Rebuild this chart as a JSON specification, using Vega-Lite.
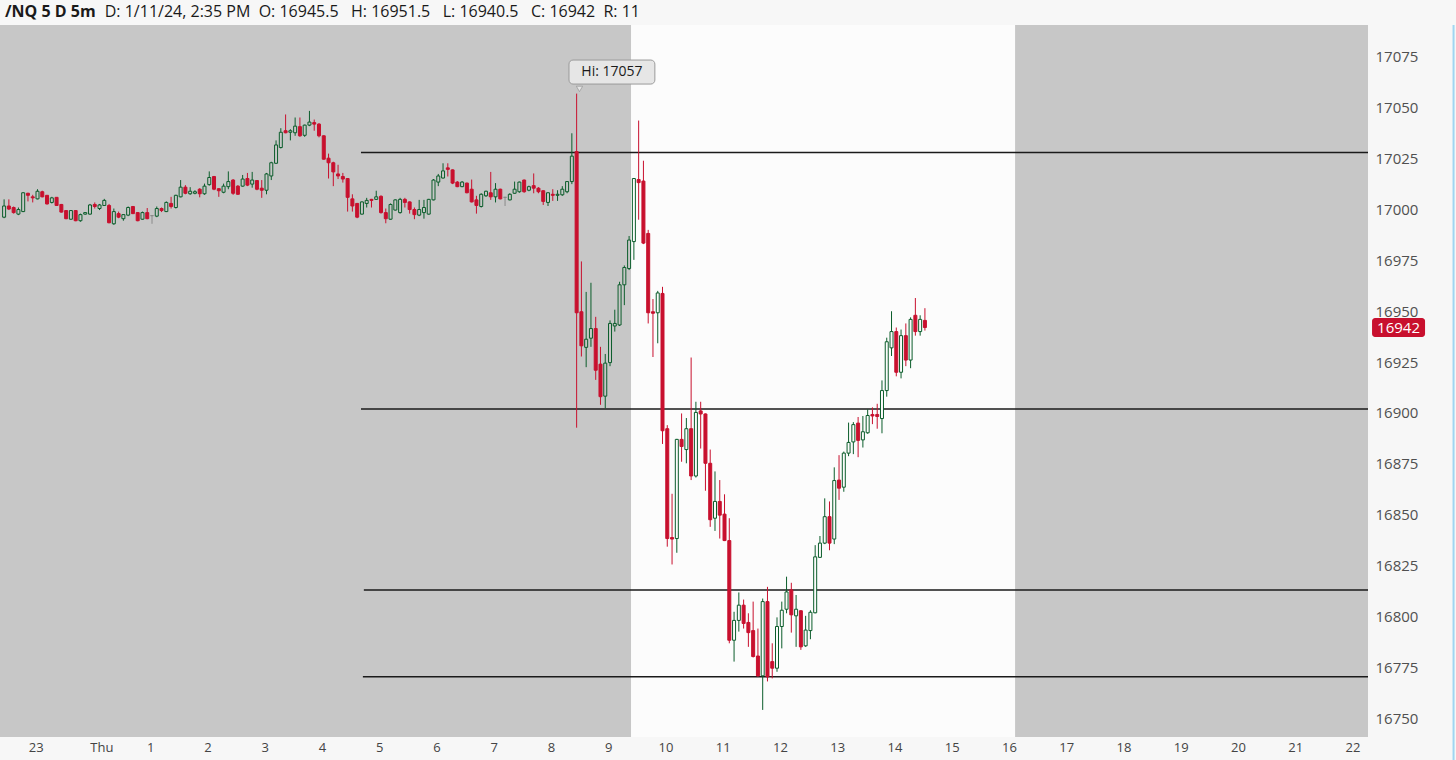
{
  "$schema": "https://vega.github.io/schema/vega-lite/v6.json",
  "autosize": "none",
  "width": 1368,
  "height": 712,
  "padding": {"left": 0, "top": 25, "right": 88, "bottom": 23},
  "background": "#f7f7f7",
  "title": {
    "text": "/NQ 5 D 5m",
    "subtitle": "\u200b\u00a0\u00a0\u00a0\u00a0\u00a0\u00a0\u00a0\u00a0\u00a0\u00a0\u00a0\u00a0\u00a0\u00a0\u00a0\u00a0\u00a0\u00a0\u00a0\u00a0\u00a0\u00a0\u00a0\u00a0D: 1/11/24, 2:35 PM\u00a0\u00a0O: 16945.5\u00a0\u00a0\u00a0H: 16951.5\u00a0\u00a0\u00a0L: 16940.5\u00a0\u00a0\u00a0C: 16942\u00a0\u00a0R: 11",
    "anchor": "start",
    "frame": "group",
    "font": "Open Sans",
    "fontSize": 16,
    "fontWeight": "bold",
    "color": "#1a1a1a",
    "subtitleFont": "Open Sans",
    "subtitleFontSize": 16,
    "subtitleColor": "#1a1a1a",
    "subtitlePadding": -16,
    "offset": 4,
    "dx": 5
  },
  "data": {
    "format": {"parse": {"t": "date"}},
    "values": [
      {"t":"2024-01-10T22:30","o":16996.25,"h":17005,"l":16995.75,"c":17001.75},
      {"t":"2024-01-10T22:35","o":17001.75,"h":17005,"l":16999.75,"c":17000.25},
      {"t":"2024-01-10T22:40","o":17001,"h":17001.5,"l":16998,"c":16998.5},
      {"t":"2024-01-10T22:45","o":16997.75,"h":17001,"l":16997.25,"c":17000},
      {"t":"2024-01-10T22:50","o":16999,"h":17008.5,"l":16998.75,"c":17008.25},
      {"t":"2024-01-10T22:55","o":17008,"h":17008.25,"l":17004,"c":17007},
      {"t":"2024-01-10T23:00","o":17006.25,"h":17007.25,"l":17003.5,"c":17005.75},
      {"t":"2024-01-10T23:05","o":17005.25,"h":17010,"l":17005,"c":17009},
      {"t":"2024-01-10T23:10","o":17008.75,"h":17009.25,"l":17006,"c":17006.25},
      {"t":"2024-01-10T23:15","o":17007,"h":17007,"l":17002.5,"c":17002.75},
      {"t":"2024-01-10T23:20","o":17003.5,"h":17006.25,"l":17003,"c":17005.75},
      {"t":"2024-01-10T23:25","o":17006,"h":17006,"l":17001.75,"c":17002},
      {"t":"2024-01-10T23:30","o":17002.5,"h":17002.75,"l":16998.5,"c":16998.75},
      {"t":"2024-01-10T23:35","o":16999.5,"h":16999.75,"l":16995.25,"c":16995.5},
      {"t":"2024-01-10T23:40","o":16995.25,"h":16999.75,"l":16995,"c":16999.5},
      {"t":"2024-01-10T23:45","o":16999.5,"h":16999.75,"l":16994.25,"c":16994.5},
      {"t":"2024-01-10T23:50","o":16994.5,"h":16998,"l":16994,"c":16997.5},
      {"t":"2024-01-10T23:55","o":16997.75,"h":16998.75,"l":16997.5,"c":16998.5},
      {"t":"2024-01-11T00:00","o":16997.75,"h":17002.75,"l":16997.5,"c":17002.25},
      {"t":"2024-01-11T00:05","o":17002.5,"h":17003.5,"l":17000.5,"c":17001.5},
      {"t":"2024-01-11T00:10","o":17000.5,"h":17002.75,"l":16999.75,"c":17002.25},
      {"t":"2024-01-11T00:15","o":17002,"h":17005.25,"l":17001.75,"c":17004.5},
      {"t":"2024-01-11T00:20","o":17002,"h":17002.75,"l":16993.25,"c":16993.5},
      {"t":"2024-01-11T00:25","o":16993,"h":17000.5,"l":16992.5,"c":16999},
      {"t":"2024-01-11T00:30","o":16998,"h":16999,"l":16995.75,"c":16996.25},
      {"t":"2024-01-11T00:35","o":16995.5,"h":16997.75,"l":16994.5,"c":16997.5},
      {"t":"2024-01-11T00:40","o":16997.25,"h":17001.5,"l":16996.75,"c":17001},
      {"t":"2024-01-11T00:45","o":17001.5,"h":17001.75,"l":16997.75,"c":16998},
      {"t":"2024-01-11T00:50","o":16998.5,"h":16998.75,"l":16994.25,"c":16994.5},
      {"t":"2024-01-11T00:55","o":16995.25,"h":16999,"l":16995,"c":16998.5},
      {"t":"2024-01-11T01:00","o":16998.5,"h":17000.75,"l":16995.25,"c":16995.5},
      {"t":"2024-01-11T01:05","o":16997,"h":16997.25,"l":16993,"c":16997},
      {"t":"2024-01-11T01:10","o":16996.75,"h":17001.5,"l":16996.25,"c":17000.5},
      {"t":"2024-01-11T01:15","o":17000.5,"h":17001,"l":16998.75,"c":16999.5},
      {"t":"2024-01-11T01:20","o":16999,"h":17004,"l":16998.75,"c":17003.5},
      {"t":"2024-01-11T01:25","o":17003,"h":17006.25,"l":17000.5,"c":17001.5},
      {"t":"2024-01-11T01:30","o":17001,"h":17007.25,"l":17000.5,"c":17007},
      {"t":"2024-01-11T01:35","o":17006.25,"h":17014.5,"l":17006,"c":17011},
      {"t":"2024-01-11T01:40","o":17011,"h":17012,"l":17007.5,"c":17008},
      {"t":"2024-01-11T01:45","o":17007.75,"h":17011,"l":17007.25,"c":17009},
      {"t":"2024-01-11T01:50","o":17008,"h":17009.5,"l":17007.5,"c":17008.75},
      {"t":"2024-01-11T01:55","o":17010,"h":17010.5,"l":17006,"c":17007.75},
      {"t":"2024-01-11T02:00","o":17007.75,"h":17012.75,"l":17007.25,"c":17011.5},
      {"t":"2024-01-11T02:05","o":17012.25,"h":17018.75,"l":17011.75,"c":17015.75},
      {"t":"2024-01-11T02:10","o":17016.25,"h":17016.5,"l":17009.5,"c":17010},
      {"t":"2024-01-11T02:15","o":17010.25,"h":17010.5,"l":17006.25,"c":17009.25},
      {"t":"2024-01-11T02:20","o":17008.5,"h":17012.75,"l":17008,"c":17011.5},
      {"t":"2024-01-11T02:25","o":17011.25,"h":17018.75,"l":17010,"c":17013.75},
      {"t":"2024-01-11T02:30","o":17014.5,"h":17015,"l":17007.25,"c":17008},
      {"t":"2024-01-11T02:35","o":17011.5,"h":17012,"l":17007.25,"c":17007.5},
      {"t":"2024-01-11T02:40","o":17011.5,"h":17017,"l":17011.25,"c":17015},
      {"t":"2024-01-11T02:45","o":17015.25,"h":17018,"l":17011.5,"c":17012},
      {"t":"2024-01-11T02:50","o":17012.5,"h":17018.5,"l":17010.75,"c":17014.5},
      {"t":"2024-01-11T02:55","o":17014.25,"h":17014.5,"l":17009.5,"c":17010},
      {"t":"2024-01-11T03:00","o":17010.5,"h":17014.5,"l":17005.75,"c":17009.5},
      {"t":"2024-01-11T03:05","o":17009.5,"h":17018,"l":17007.5,"c":17017.5},
      {"t":"2024-01-11T03:10","o":17016.5,"h":17023.5,"l":17014.5,"c":17023},
      {"t":"2024-01-11T03:15","o":17022.75,"h":17034,"l":17022.5,"c":17031.75},
      {"t":"2024-01-11T03:20","o":17030.5,"h":17040,"l":17030,"c":17038},
      {"t":"2024-01-11T03:25","o":17038.75,"h":17046.75,"l":17037.5,"c":17037.75},
      {"t":"2024-01-11T03:30","o":17038,"h":17039.5,"l":17034,"c":17038.75},
      {"t":"2024-01-11T03:35","o":17037.75,"h":17045.25,"l":17036.25,"c":17041},
      {"t":"2024-01-11T03:40","o":17040.75,"h":17045.25,"l":17035.75,"c":17036.25},
      {"t":"2024-01-11T03:45","o":17036.5,"h":17041.75,"l":17035.75,"c":17041.5},
      {"t":"2024-01-11T03:50","o":17041.5,"h":17048.5,"l":17041,"c":17043},
      {"t":"2024-01-11T03:55","o":17042.75,"h":17044.25,"l":17038.75,"c":17042},
      {"t":"2024-01-11T04:00","o":17042,"h":17042.5,"l":17035.5,"c":17036.25},
      {"t":"2024-01-11T04:05","o":17036.25,"h":17036.5,"l":17024.5,"c":17024.75},
      {"t":"2024-01-11T04:10","o":17025.25,"h":17027.5,"l":17015.25,"c":17023},
      {"t":"2024-01-11T04:15","o":17023,"h":17023.5,"l":17011.5,"c":17018.5},
      {"t":"2024-01-11T04:20","o":17017.5,"h":17022,"l":17015,"c":17016.5},
      {"t":"2024-01-11T04:25","o":17016.25,"h":17018,"l":17013.25,"c":17015},
      {"t":"2024-01-11T04:30","o":17015.25,"h":17015.5,"l":16999,"c":17006},
      {"t":"2024-01-11T04:35","o":17005.25,"h":17007.5,"l":16999,"c":17001.75},
      {"t":"2024-01-11T04:40","o":17003,"h":17003.25,"l":16995.75,"c":16996.25},
      {"t":"2024-01-11T04:45","o":16997.75,"h":17004,"l":16997.5,"c":17003.75},
      {"t":"2024-01-11T04:50","o":17003,"h":17005.75,"l":17001,"c":17004.5},
      {"t":"2024-01-11T04:55","o":17005,"h":17005.25,"l":17001,"c":17004.5},
      {"t":"2024-01-11T05:00","o":17005,"h":17009.25,"l":17004.75,"c":17006.25},
      {"t":"2024-01-11T05:05","o":17006.5,"h":17007,"l":16998,"c":16998.5},
      {"t":"2024-01-11T05:10","o":16998.5,"h":17000.5,"l":16993.25,"c":16995.5},
      {"t":"2024-01-11T05:15","o":16995.25,"h":17003,"l":16995,"c":17002.5},
      {"t":"2024-01-11T05:20","o":16999.75,"h":17005,"l":16999.5,"c":17004.75},
      {"t":"2024-01-11T05:25","o":16998.5,"h":17005.75,"l":16998,"c":17005},
      {"t":"2024-01-11T05:30","o":17005,"h":17005.75,"l":17001,"c":17003.5},
      {"t":"2024-01-11T05:35","o":17003.75,"h":17004,"l":16998,"c":17000},
      {"t":"2024-01-11T05:40","o":17000,"h":17001,"l":16995.25,"c":16997.5},
      {"t":"2024-01-11T05:45","o":16997.25,"h":17004.75,"l":16996.75,"c":17000},
      {"t":"2024-01-11T05:50","o":16998.5,"h":17004.75,"l":16995.5,"c":17001},
      {"t":"2024-01-11T05:55","o":16997.75,"h":17005.25,"l":16997.5,"c":17005},
      {"t":"2024-01-11T06:00","o":17004.75,"h":17015,"l":17004.5,"c":17014.5},
      {"t":"2024-01-11T06:05","o":17013.5,"h":17017.5,"l":17011.5,"c":17016.5},
      {"t":"2024-01-11T06:10","o":17015.5,"h":17022.75,"l":17015.25,"c":17019},
      {"t":"2024-01-11T06:15","o":17020.5,"h":17022.75,"l":17016.25,"c":17019.75},
      {"t":"2024-01-11T06:20","o":17019.5,"h":17019.75,"l":17012.5,"c":17013},
      {"t":"2024-01-11T06:25","o":17013.5,"h":17014,"l":17011,"c":17011.25},
      {"t":"2024-01-11T06:30","o":17011.25,"h":17014,"l":17011,"c":17013.5},
      {"t":"2024-01-11T06:35","o":17013,"h":17013.25,"l":17008,"c":17008.25},
      {"t":"2024-01-11T06:40","o":17010,"h":17014.75,"l":17003.5,"c":17003.75},
      {"t":"2024-01-11T06:45","o":17004.75,"h":17006.75,"l":16998,"c":17002},
      {"t":"2024-01-11T06:50","o":17001.5,"h":17008,"l":17001,"c":17007.5},
      {"t":"2024-01-11T06:55","o":17006.75,"h":17009.25,"l":17006.25,"c":17009},
      {"t":"2024-01-11T07:00","o":17008.25,"h":17018.5,"l":17004.75,"c":17006.25},
      {"t":"2024-01-11T07:05","o":17006.25,"h":17013,"l":17003.5,"c":17010},
      {"t":"2024-01-11T07:10","o":17010,"h":17010.25,"l":17005,"c":17005.25},
      {"t":"2024-01-11T07:15","o":17006,"h":17006.25,"l":17001.75,"c":17006},
      {"t":"2024-01-11T07:20","o":17004.75,"h":17008,"l":17004.5,"c":17007.5},
      {"t":"2024-01-11T07:25","o":17008,"h":17013.75,"l":17007.75,"c":17010},
      {"t":"2024-01-11T07:30","o":17008.75,"h":17013.75,"l":17008.25,"c":17013.5},
      {"t":"2024-01-11T07:35","o":17014.5,"h":17014.75,"l":17008.25,"c":17008.75},
      {"t":"2024-01-11T07:40","o":17009.5,"h":17011.75,"l":17009,"c":17011.25},
      {"t":"2024-01-11T07:45","o":17011.75,"h":17017.75,"l":17008,"c":17010.5},
      {"t":"2024-01-11T07:50","o":17010.5,"h":17011,"l":17008,"c":17008.75},
      {"t":"2024-01-11T07:55","o":17009.25,"h":17009.5,"l":17002.25,"c":17004},
      {"t":"2024-01-11T08:00","o":17003.5,"h":17008.5,"l":17001.75,"c":17008.25},
      {"t":"2024-01-11T08:05","o":17007.5,"h":17010,"l":17004.25,"c":17007},
      {"t":"2024-01-11T08:10","o":17007,"h":17009.5,"l":17004.25,"c":17007.5},
      {"t":"2024-01-11T08:15","o":17007.25,"h":17011.5,"l":17006.75,"c":17010},
      {"t":"2024-01-11T08:20","o":17008.75,"h":17014,"l":17008,"c":17013.75},
      {"t":"2024-01-11T08:25","o":17013.75,"h":17037.5,"l":17012.5,"c":17026.25},
      {"t":"2024-01-11T08:30","o":17028.5,"h":17057,"l":16892.75,"c":16949.25},
      {"t":"2024-01-11T08:35","o":16949.75,"h":16974.5,"l":16927.75,"c":16933},
      {"t":"2024-01-11T08:40","o":16932.25,"h":16959.5,"l":16922.5,"c":16936.25},
      {"t":"2024-01-11T08:45","o":16936.75,"h":16964,"l":16932.5,"c":16941.5},
      {"t":"2024-01-11T08:50","o":16941.5,"h":16947.25,"l":16916.25,"c":16921},
      {"t":"2024-01-11T08:55","o":16924,"h":16932.5,"l":16904,"c":16908},
      {"t":"2024-01-11T09:00","o":16908.25,"h":16929,"l":16902.25,"c":16924.5},
      {"t":"2024-01-11T09:05","o":16924.75,"h":16945.5,"l":16923,"c":16944},
      {"t":"2024-01-11T09:10","o":16942.75,"h":16950.75,"l":16940,"c":16944},
      {"t":"2024-01-11T09:15","o":16943.25,"h":16964.5,"l":16942.75,"c":16963},
      {"t":"2024-01-11T09:20","o":16963,"h":16972.5,"l":16953,"c":16971.5},
      {"t":"2024-01-11T09:25","o":16971,"h":16987,"l":16970.25,"c":16985},
      {"t":"2024-01-11T09:30","o":16984.25,"h":17015.5,"l":16975.25,"c":17015.25},
      {"t":"2024-01-11T09:35","o":17014.75,"h":17043.75,"l":16995,"c":17013.25},
      {"t":"2024-01-11T09:40","o":17014,"h":17024,"l":16983,"c":16983.5},
      {"t":"2024-01-11T09:45","o":16988.25,"h":16990,"l":16944,"c":16949.25},
      {"t":"2024-01-11T09:50","o":16949.75,"h":16956,"l":16927.5,"c":16949},
      {"t":"2024-01-11T09:55","o":16949.25,"h":16960,"l":16934.25,"c":16959},
      {"t":"2024-01-11T10:00","o":16958.75,"h":16962,"l":16884.75,"c":16891.25},
      {"t":"2024-01-11T10:05","o":16892.25,"h":16894,"l":16834.25,"c":16838.25},
      {"t":"2024-01-11T10:10","o":16838.75,"h":16860.25,"l":16825.5,"c":16838},
      {"t":"2024-01-11T10:15","o":16838.25,"h":16887.25,"l":16831.25,"c":16887},
      {"t":"2024-01-11T10:20","o":16887,"h":16899.75,"l":16876,"c":16883.5},
      {"t":"2024-01-11T10:25","o":16882,"h":16897.5,"l":16875.25,"c":16892.25},
      {"t":"2024-01-11T10:30","o":16892.25,"h":16927.25,"l":16867,"c":16869},
      {"t":"2024-01-11T10:35","o":16869,"h":16905.5,"l":16868.25,"c":16900.25},
      {"t":"2024-01-11T10:40","o":16901,"h":16905.5,"l":16882.5,"c":16899.5},
      {"t":"2024-01-11T10:45","o":16899.5,"h":16899.75,"l":16861.75,"c":16875.25},
      {"t":"2024-01-11T10:50","o":16875.25,"h":16882,"l":16844,"c":16847.5},
      {"t":"2024-01-11T10:55","o":16848.25,"h":16871.25,"l":16842,"c":16856.5},
      {"t":"2024-01-11T11:00","o":16856.5,"h":16867,"l":16838.25,"c":16849.75},
      {"t":"2024-01-11T11:05","o":16850.25,"h":16860,"l":16837,"c":16837.25},
      {"t":"2024-01-11T11:10","o":16837.25,"h":16848.25,"l":16786.75,"c":16788.25},
      {"t":"2024-01-11T11:15","o":16788.25,"h":16802.25,"l":16777.75,"c":16798},
      {"t":"2024-01-11T11:20","o":16798,"h":16811.75,"l":16792.5,"c":16805.5},
      {"t":"2024-01-11T11:25","o":16805.5,"h":16808.25,"l":16794,"c":16796.5},
      {"t":"2024-01-11T11:30","o":16797,"h":16801.5,"l":16785,"c":16792},
      {"t":"2024-01-11T11:35","o":16793,"h":16807.25,"l":16779.75,"c":16780.25},
      {"t":"2024-01-11T11:40","o":16780.5,"h":16794,"l":16770.25,"c":16770.75},
      {"t":"2024-01-11T11:45","o":16770.75,"h":16808.75,"l":16754,"c":16807.25},
      {"t":"2024-01-11T11:50","o":16807.25,"h":16814.5,"l":16768,"c":16770.25},
      {"t":"2024-01-11T11:55","o":16777.75,"h":16786.75,"l":16769.5,"c":16774.5},
      {"t":"2024-01-11T12:00","o":16774.5,"h":16799.5,"l":16772.75,"c":16795},
      {"t":"2024-01-11T12:05","o":16795,"h":16807.25,"l":16784.25,"c":16803},
      {"t":"2024-01-11T12:10","o":16803.5,"h":16819.5,"l":16801.5,"c":16812},
      {"t":"2024-01-11T12:15","o":16813,"h":16816.5,"l":16792,"c":16800.75},
      {"t":"2024-01-11T12:20","o":16800.25,"h":16810.5,"l":16785,"c":16803.5},
      {"t":"2024-01-11T12:25","o":16802.75,"h":16803,"l":16783.5,"c":16785},
      {"t":"2024-01-11T12:30","o":16785.5,"h":16800.25,"l":16785,"c":16793.25},
      {"t":"2024-01-11T12:35","o":16793,"h":16803,"l":16788.75,"c":16802},
      {"t":"2024-01-11T12:40","o":16801.75,"h":16835,"l":16801.5,"c":16829.25},
      {"t":"2024-01-11T12:45","o":16829,"h":16839.5,"l":16828.75,"c":16836},
      {"t":"2024-01-11T12:50","o":16836,"h":16858,"l":16835.5,"c":16849},
      {"t":"2024-01-11T12:55","o":16849,"h":16856.5,"l":16832.5,"c":16836},
      {"t":"2024-01-11T13:00","o":16838,"h":16873.25,"l":16835.5,"c":16866.75},
      {"t":"2024-01-11T13:05","o":16867,"h":16879.25,"l":16857.25,"c":16863},
      {"t":"2024-01-11T13:10","o":16863.5,"h":16881,"l":16861.25,"c":16880.25},
      {"t":"2024-01-11T13:15","o":16880.25,"h":16895.25,"l":16878.75,"c":16885.5},
      {"t":"2024-01-11T13:20","o":16885.75,"h":16895.5,"l":16879.75,"c":16894.25},
      {"t":"2024-01-11T13:25","o":16895,"h":16898,"l":16878.25,"c":16886.5},
      {"t":"2024-01-11T13:30","o":16886.75,"h":16898.5,"l":16883,"c":16890.75},
      {"t":"2024-01-11T13:35","o":16890.25,"h":16901.75,"l":16889.75,"c":16898.75},
      {"t":"2024-01-11T13:40","o":16899.25,"h":16902.75,"l":16894.5,"c":16898.5},
      {"t":"2024-01-11T13:45","o":16899.25,"h":16904.5,"l":16892.25,"c":16898.25},
      {"t":"2024-01-11T13:50","o":16897.25,"h":16916,"l":16890,"c":16911},
      {"t":"2024-01-11T13:55","o":16911,"h":16937,"l":16908,"c":16935},
      {"t":"2024-01-11T14:00","o":16932,"h":16950,"l":16928,"c":16940},
      {"t":"2024-01-11T14:05","o":16940,"h":16942,"l":16918,"c":16920},
      {"t":"2024-01-11T14:10","o":16920,"h":16941,"l":16917,"c":16938},
      {"t":"2024-01-11T14:15","o":16938,"h":16944,"l":16923,"c":16926},
      {"t":"2024-01-11T14:20","o":16926,"h":16947,"l":16922,"c":16946},
      {"t":"2024-01-11T14:25","o":16948,"h":16956.5,"l":16938,"c":16940},
      {"t":"2024-01-11T14:30","o":16940,"h":16948,"l":16938,"c":16946},
      {"t":"2024-01-11T14:35","o":16945.5,"h":16951.5,"l":16940.5,"c":16942}
    ]
  },
  "resolve": {"axis": {"x": "independent", "y": "independent"}},
  "layer": [
    {
      "data": {"values": [{"session": "RTH"}]},
      "mark": {"type": "rect", "fill": "#fcfcfc"},
      "encoding": {
        "x": {"datum": {"year": 2024, "month": 1, "date": 11, "hours": 9, "minutes": 27}, "type": "temporal", "axis": null, "scale": {"domain": [{"year": 2024, "month": 1, "date": 10, "hours": 22, "minutes": 25, "seconds": 42}, {"year": 2024, "month": 1, "date": 11, "hours": 22, "minutes": 19, "seconds": 21}], "nice": false, "padding": 0}},
        "x2": {"datum": {"year": 2024, "month": 1, "date": 11, "hours": 16, "minutes": 9, "seconds": 30}},
        "y": {"datum": 16740.68, "type": "quantitative", "axis": null, "scale": {"domain": [16740.68, 17090.73], "nice": false, "zero": false, "padding": 0}},
        "y2": {"datum": 17090.73}
      }
    },
    {
      "data": {"values": [
        {"level": 17028, "from": "2024-01-11T04:44"},
        {"level": 16902, "from": "2024-01-11T04:44"},
        {"level": 16813, "from": "2024-01-11T04:47"},
        {"level": 16770.25, "from": "2024-01-11T04:46"}
      ]},
      "mark": {"type": "rule", "stroke": "#1a1a1a", "strokeWidth": 1.5, "clip": true},
      "encoding": {
        "x": {"field": "from", "type": "temporal", "axis": null},
        "x2": {"datum": {"year": 2024, "month": 1, "date": 12, "hours": 0}},
        "y": {"field": "level", "type": "quantitative", "axis": null}
      }
    },
    {
      "mark": {"type": "rule", "strokeWidth": 1},
      "encoding": {
        "x": {"field": "t", "type": "temporal", "axis": null},
        "y": {"field": "l", "type": "quantitative", "axis": null},
        "y2": {"field": "h"},
        "stroke": {
          "condition": [
            {"test": "datum.c < datum.o", "value": "#c8102e"},
            {"test": "datum.c == datum.o", "value": "#8a8a8a"}
          ],
          "value": "#0b5d2b"
        }
      }
    },
    {
      "mark": {"type": "bar", "size": 3, "strokeWidth": 1},
      "encoding": {
        "x": {
          "field": "t", "type": "temporal",
          "axis": {
            "title": null, "grid": false, "ticks": false, "domain": false,
            "tickCount": 24,
            "labelExpr": "hours(datum.value) == 0 ? '\u200b\u00a0\u00a0\u00a0\u00a0\u00a0Thu' : '' + hours(datum.value)",
            "labelFont": "Open Sans", "labelFontSize": 13, "labelColor": "#444444",
            "labelPadding": 4, "labelOffset": 3, "labelFlush": false, "labelOverlap": false
          }
        },
        "y": {
          "field": "o", "type": "quantitative",
          "axis": {
            "orient": "right", "title": null, "grid": false, "ticks": false, "domain": false,
            "values": [16750, 16775, 16800, 16825, 16850, 16875, 16900, 16925, 16950, 16975, 17000, 17025, 17050, 17075],
            "format": "d", "labelFont": "Open Sans", "labelFontSize": 15, "labelColor": "#505050",
            "labelPadding": 7, "labelFlush": false, "labelOverlap": false
          }
        },
        "y2": {"field": "c"},
        "fill": {
          "condition": [
            {"test": "datum.c < datum.o", "value": "#c8102e"},
            {"test": "datum.c == datum.o", "value": "#8a8a8a"},
            {"test": "time(datum.t) >= time(datetime(2024, 0, 11, 9, 27))", "value": "#fcfcfc"}
          ],
          "value": "#c7c7c7"
        },
        "stroke": {
          "condition": [
            {"test": "datum.c < datum.o", "value": "#c8102e"},
            {"test": "datum.c == datum.o", "value": "#8a8a8a"}
          ],
          "value": "#0b5d2b"
        }
      }
    },
    {
      "data": {"values": [{"label": "Hi: 17057"}]},
      "mark": {"type": "rect", "fill": "#e6e6e6", "stroke": "#9a9a9a", "strokeWidth": 1, "cornerRadius": 4},
      "encoding": {
        "x": {"datum": {"year": 2024, "month": 1, "date": 11, "hours": 8, "minutes": 22}, "type": "temporal", "axis": null},
        "x2": {"datum": {"year": 2024, "month": 1, "date": 11, "hours": 9, "minutes": 52}},
        "y": {"datum": 17061.7, "type": "quantitative", "axis": null},
        "y2": {"datum": 17073.5}
      }
    },
    {
      "data": {"values": [{"label": "Hi: 17057"}]},
      "mark": {"type": "point", "shape": "triangle-down", "filled": true, "fill": "#e6e6e6", "stroke": "#9a9a9a", "strokeWidth": 0.8, "size": 40, "opacity": 1},
      "encoding": {
        "x": {"datum": {"year": 2024, "month": 1, "date": 11, "hours": 8, "minutes": 33}, "type": "temporal", "axis": null},
        "y": {"datum": 17059.3, "type": "quantitative", "axis": null}
      }
    },
    {
      "data": {"values": [{"label": "Hi: 17057"}]},
      "mark": {"type": "text", "font": "Open Sans", "fontSize": 14, "color": "#1a1a1a", "align": "center", "baseline": "middle"},
      "encoding": {
        "x": {"datum": {"year": 2024, "month": 1, "date": 11, "hours": 9, "minutes": 7}, "type": "temporal", "axis": null},
        "y": {"datum": 17067.6, "type": "quantitative", "axis": null},
        "text": {"field": "label"}
      }
    },
    {
      "transform": [{"filter": "time(datum.t) == time(datetime(2024, 0, 11, 14, 35))"}],
      "mark": {"type": "rect", "fill": "#c8102e", "cornerRadius": 3, "yOffset": -9.5, "y2Offset": 9.5},
      "encoding": {
        "x": {"datum": {"year": 2024, "month": 1, "date": 11, "hours": 22, "minutes": 23, "seconds": 35}, "type": "temporal", "axis": null},
        "x2": {"datum": {"year": 2024, "month": 1, "date": 11, "hours": 23, "minutes": 19, "seconds": 8}},
        "y": {"field": "c", "type": "quantitative", "axis": null},
        "y2": {"field": "c"}
      }
    },
    {
      "transform": [{"filter": "time(datum.t) == time(datetime(2024, 0, 11, 14, 35))"}],
      "mark": {"type": "text", "font": "Open Sans", "fontSize": 15, "color": "#ffffff", "align": "center", "baseline": "middle"},
      "encoding": {
        "x": {"datum": {"year": 2024, "month": 1, "date": 11, "hours": 22, "minutes": 51, "seconds": 20}, "type": "temporal", "axis": null},
        "y": {"field": "c", "type": "quantitative", "axis": null},
        "text": {"field": "c", "type": "quantitative", "format": "d"}
      }
    },
    {
      "data": {"values": [{"edge": "window"}]},
      "mark": {"type": "rule", "stroke": "#9fd6f2", "strokeWidth": 2, "clip": false},
      "encoding": {
        "x": {"datum": {"year": 2024, "month": 1, "date": 11, "hours": 23, "minutes": 49}, "type": "temporal", "axis": null},
        "y": {"datum": 17090.73, "type": "quantitative", "axis": null},
        "y2": {"datum": 16729.4}
      }
    }
  ],
  "config": {
    "font": "Open Sans",
    "view": {"stroke": null, "fill": "#c7c7c7"}
  }
}
